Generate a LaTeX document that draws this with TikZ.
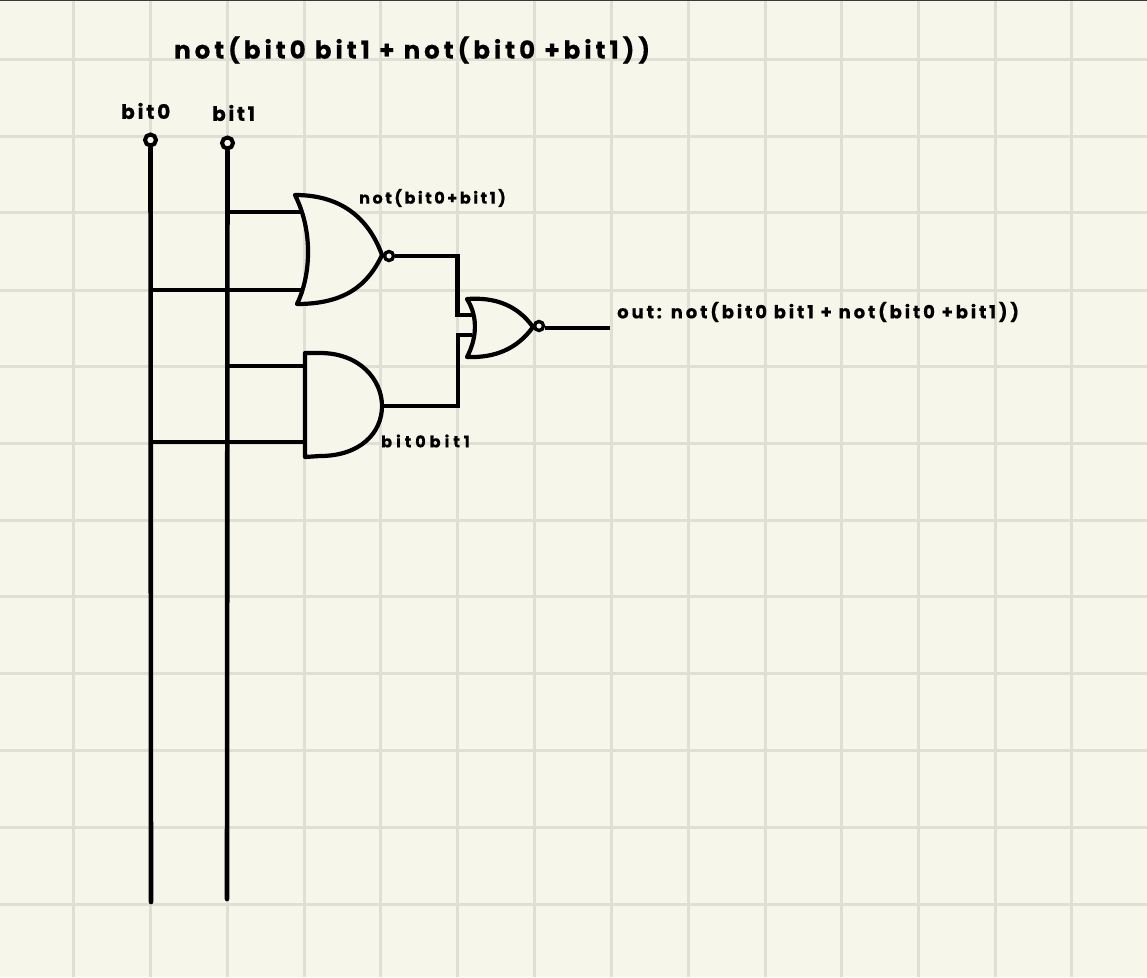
\documentclass[tikz,border=0pt]{standalone}
\usepackage{fontspec}
\setmainfont{Poppins}[BoldFont={* Bold}]
\newcommand{\handfont}[2]{\fontsize{#1}{#1}\bfseries\addfontfeatures{LetterSpace=#2,FakeBold=0.6}\selectfont}
\begin{document}
\begin{tikzpicture}[x=1pt,y=-1pt,
  gridline/.style={draw=gridcol,line width=3pt},
  wire/.style={draw=black,line width=4.2pt,line join=miter},
  rail/.style={draw=black,line width=4.6pt,line cap=round},
  gateline/.style={draw=black,line width=4.2pt,line join=round,line cap=round},
  term/.style={circle,draw=black,line width=4pt,inner sep=0pt,minimum size=11pt,fill=paper},
  bubble/.style={circle,draw=black,line width=3.4pt,inner sep=0pt,minimum size=9pt,fill=paper},
  hand/.style={inner sep=0pt,text=black}]
\definecolor{paper}{HTML}{F6F6EB}
\definecolor{gridcol}{HTML}{DFDFD3}
\definecolor{topbar}{HTML}{3A3A3A}
\useasboundingbox (0,0) rectangle (1147,977);
\fill[paper] (0,0) rectangle (1147,977);
\foreach \gx in {73,150.5,227,304,380,457.5,534,611,688,765,841,918,995,1071}
  \draw[gridline] (\gx,0) -- (\gx,977);
\foreach \gy in {59,136,212,290,366,443,520,596,673,750,827,904}
  \draw[gridline] (0,\gy) -- (1147,\gy);
\fill[topbar] (0,0) rectangle (1147,1);

% titles and labels
\node[hand,anchor=west] (title) at (174,50) {\handfont{24.5}{16.3}not(bit0 bit1 + not(bit0 +bit1))};
\node[hand,anchor=west] (lbit0) at (121,111) {\handfont{20}{14}bit0};
\node[hand,anchor=west] (lbit1) at (212,113) {\handfont{20}{13}bit1};
\node[hand,anchor=west] (lnor) at (359,198) {\handfont{16}{16}not(bit0+bit1)};
\node[hand,anchor=west] (land) at (381,441) {\handfont{16}{25}bit0bit1};
\node[hand,anchor=west] (lout) at (617,312) {\handfont{18}{16}out: not(bit0 bit1 + not(bit0 +bit1))};

% named points
\coordinate (b0end) at (151,902);
\coordinate (b1end) at (227,899);
\coordinate (b0a) at (151,290);
\coordinate (b1a) at (227,212);
\coordinate (b0b) at (151,442);
\coordinate (b1b) at (227,366);
\coordinate (norA) at (304,212);
\coordinate (norB) at (303,290);
\coordinate (andA) at (305,366);
\coordinate (andB) at (305,442);
\coordinate (andOut) at (382,406);
\coordinate (midA) at (472,315);
\coordinate (midB) at (472,335);
\coordinate (outEnd) at (610,328);

% rails
\node[term] (t0) at (150.5,140) {};
\node[term] (t1) at (227.5,143) {};
\draw[rail] (t0) -- (b0end);
\draw[rail] (t1) -- (b1end);

% input wires
\draw[wire] (b1a) -- (norA);
\draw[wire] (b0a) -- (norB);
\draw[wire] (b1b) -- (andA);
\draw[wire] (b0b) -- (andB);

% gates
\path[gateline,fill=paper] (295,195) .. controls (345,195) and (370,222) .. (382,255)
  .. controls (368,285) and (345,304) .. (297,304)
  .. controls (309,280) and (315,235) .. cycle;
\path[gateline,fill=paper] (305,353) -- (320,353) .. controls (360,353) and (382,380) .. (382,406)
  .. controls (382,433) and (360,456) .. (320,456) -- (305,457) -- cycle;
\path[gateline,fill=paper] (467,299) .. controls (495,297) and (517,305) .. (533,327)
  .. controls (517,349) and (495,358) .. (467,357)
  .. controls (476,340) and (479,318) .. cycle;

% outputs
\node[bubble] (b1) at (389,256) {};
\node[bubble] (b2) at (539,326) {};
\draw[wire] (b1) -- (457.5,256) -- (457.5,315) -- (midA);
\draw[wire] (andOut) -- (458,406) -- (458,335) -- (midB);
\draw[wire] (b2.east) ++(0,2) -- (outEnd);
\end{tikzpicture}
\end{document}
